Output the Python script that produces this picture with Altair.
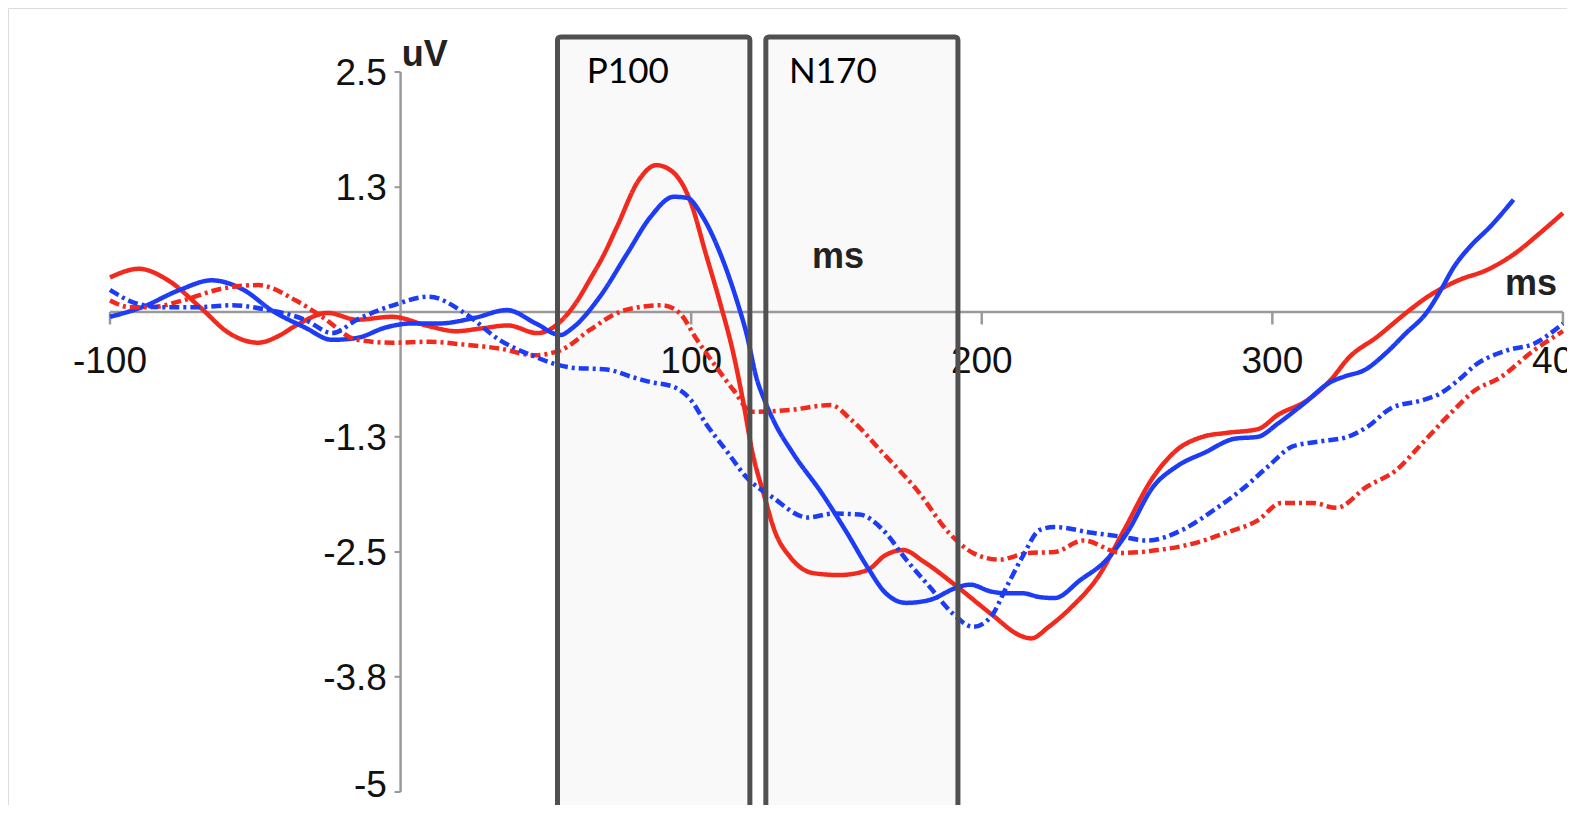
import altair as alt
import pandas as pd

# ---------------- data (ms, uV) ----------------
red_solid_ms = [-100, -90, -80, -69, -59, -49, -42, -36, -25, -15, -3, 10, 19, 28, 37, 47, 55, 60, 65, 70,
                74.5, 82, 88, 94, 100, 105, 110, 114.5, 118, 121, 125, 129, 134, 142, 151, 160.5, 167, 173,
                180, 191.5, 203, 214, 217, 223, 231, 240, 249, 259, 267, 276, 284, 295, 302, 312, 320,
                326.5, 336, 346, 353, 364, 374, 383.5, 392, 400]
red_solid_uv = [0.36, 0.45, 0.33, 0.05, -0.22, -0.32, -0.25, -0.14, -0.01, -0.08, -0.05, -0.15, -0.2, -0.17,
                -0.14, -0.22, -0.1, 0.08, 0.33, 0.6, 0.89, 1.375, 1.53, 1.45, 1.13, 0.61, 0.09, -0.43, -0.95,
                -1.45, -1.9, -2.3, -2.55, -2.72, -2.74, -2.69, -2.53, -2.48, -2.6, -2.86, -3.14, -3.38, -3.4,
                -3.28, -3.07, -2.76, -2.27, -1.72, -1.44, -1.3, -1.26, -1.22, -1.07, -0.92, -0.71, -0.47,
                -0.26, -0.01, 0.15, 0.33, 0.44, 0.61, 0.82, 1.03]

blue_solid_ms = [-100, -89, -76, -65, -54, -44.5, -33, -23.5, -15, -5, 3.5, 13, 25.6, 36.6, 46.6, 55, 59,
                 68.6, 78, 86, 94, 98.5, 104, 110, 115.7, 119, 122.7, 125, 129, 135, 145, 153.6, 160.5, 167,
                 174, 182, 191.5, 196, 203, 208.7, 214, 220, 225, 234, 243, 250, 259, 267, 277, 287, 295,
                 302, 311, 320, 325, 332, 339, 346, 353, 358, 362.5, 368, 375, 383]
blue_solid_uv = [-0.05, 0.05, 0.23, 0.33, 0.23, 0.02, -0.16, -0.29, -0.27, -0.16, -0.12, -0.12, -0.06, 0.02,
                 -0.12, -0.24, -0.17, 0.16, 0.61, 0.99, 1.2, 1.19, 0.99, 0.61, 0.12, -0.22, -0.71, -0.9,
                 -1.17, -1.47, -1.89, -2.3, -2.65, -2.93, -3.03, -3.0, -2.87, -2.84, -2.91, -2.93, -2.93,
                 -2.97, -2.98, -2.79, -2.58, -2.3, -1.82, -1.61, -1.46, -1.32, -1.3, -1.16, -0.95, -0.73,
                 -0.67, -0.6, -0.43, -0.22, -0.01, 0.23, 0.47, 0.68, 0.89, 1.17]

red_dash_ms = [-100, -93, -86, -75, -62, -49, -36, -27, -15, -3, 10, 22, 34, 46, 55, 65, 74.5, 82, 90, 96,
               102, 107.6, 114.5, 121, 134, 148, 155, 166, 177.6, 189, 197, 206, 216, 225, 235, 248, 260.6,
               273, 284, 295, 303, 314, 322, 332.5, 342.5, 351.5, 361.5, 370, 378, 390, 400]
red_dash_uv = [0.12, 0.05, 0.05, 0.12, 0.24, 0.28, 0.12, -0.05, -0.29, -0.32, -0.31, -0.34, -0.38, -0.45,
               -0.4, -0.19, -0.01, 0.05, 0.07, -0.01, -0.29, -0.53, -0.81, -1.04, -1.02, -0.97, -1.12, -1.47,
               -1.85, -2.31, -2.51, -2.58, -2.51, -2.5, -2.38, -2.51, -2.48, -2.41, -2.3, -2.17, -1.99,
               -1.99, -2.04, -1.82, -1.65, -1.37, -1.05, -0.81, -0.69, -0.4, -0.2]

blue_dash_ms = [-100, -91, -82, -70, -58, -47, -33, -23.5, -15, -2.6, 9.7, 22, 34, 46.6, 54, 59, 71, 80, 86,
                94, 100, 105, 112, 119, 128, 140, 149, 158, 166, 174, 182, 190, 197, 203, 208.6, 214, 220,
                225, 238, 248, 257, 269, 280, 289.5, 298.5, 307, 316, 326, 332.5, 341, 351.5, 357.7, 364,
                370, 380.8, 390, 400]
blue_dash_uv = [0.23, 0.09, 0.05, 0.05, 0.07, 0.03, -0.08, -0.22, -0.08, 0.07, 0.16, -0.01, -0.29, -0.47,
                -0.55, -0.58, -0.6, -0.68, -0.73, -0.78, -0.92, -1.16, -1.44, -1.72, -1.93, -2.14, -2.1,
                -2.11, -2.27, -2.58, -2.86, -3.14, -3.28, -3.18, -2.86, -2.55, -2.27, -2.24, -2.3, -2.34,
                -2.38, -2.27, -2.06, -1.85, -1.61, -1.4, -1.35, -1.3, -1.2, -1.0, -0.92, -0.85, -0.71,
                -0.55, -0.4, -0.33, -0.12]

# analysis windows
win_names = ["P100", "N170"]
win_start = [54, 125.7]
win_end = [120.2, 191.8]

# axis ticks / labels
x_ticks = [-100, 100, 200, 300, 400]
x_tick_labels = ["-100", "100", "200", "300", "400"]
y_ticks = [2.5, 1.3, -1.3, -2.5, -3.8, -5]
y_tick_labels = ["2.5", "1.3", "-1.3", "-2.5", "-3.8", "-5"]

# ---------------- tables ----------------
rows = []
for name, ms_list, uv_list, col, sty in [
    ("red solid", red_solid_ms, red_solid_uv, "red", "solid"),
    ("blue solid", blue_solid_ms, blue_solid_uv, "blue", "solid"),
    ("red dashdot", red_dash_ms, red_dash_uv, "red", "dashdot"),
    ("blue dashdot", blue_dash_ms, blue_dash_uv, "blue", "dashdot"),
]:
    for m, v in zip(ms_list, uv_list):
        rows.append({"series": name, "ms": m, "uv": v, "col": col, "sty": sty})
lines_df = pd.DataFrame(rows)

win_df = pd.DataFrame({"name": win_names, "x": win_start, "x2": win_end,
                       "y": [-5.6] * 2, "y2": [2.865] * 2})
win_lbl_df = pd.DataFrame({"name": win_names, "x": [64.1, 133.7], "y": [2.385, 2.385]})
xt_df = pd.DataFrame({"t": x_ticks, "lbl": x_tick_labels})
yt_df = pd.DataFrame({"t": y_ticks, "lbl": y_tick_labels})

X_DOM = [-135.1, 401.4]
Y_DOM = [-5.1354, 3.1667]
xs = alt.Scale(domain=X_DOM, nice=False, zero=False)
ys = alt.Scale(domain=Y_DOM, nice=False, zero=False)

SANS = "Liberation Sans, Arial, sans-serif"
AX = "#9a9a9a"

base = alt.Chart(lines_df)

win_fill = alt.Chart(win_df).mark_rect(fill="#f9f9f9", strokeWidth=0).encode(
    x=alt.X("x:Q", scale=xs, axis=None), x2="x2", y=alt.Y("y:Q", scale=ys, axis=None), y2="y2")

x_axis_line = alt.Chart(pd.DataFrame({"a": [x_ticks[0]], "b": [x_ticks[-1]], "y": [0]})).mark_rule(
    color=AX, strokeWidth=2.5).encode(x=alt.X("a:Q", scale=xs), x2="b", y=alt.Y("y:Q", scale=ys))
y_axis_line = alt.Chart(pd.DataFrame({"x": [0], "a": [y_ticks[-1]], "b": [y_ticks[0]]})).mark_rule(
    color=AX, strokeWidth=2.5).encode(x=alt.X("x:Q", scale=xs), y=alt.Y("a:Q", scale=ys), y2="b")

x_tick_marks = alt.Chart(xt_df).transform_calculate(y0="0", y1="-0.13").mark_rule(
    color=AX, strokeWidth=2.5).encode(x=alt.X("t:Q", scale=xs), y=alt.Y("y0:Q", scale=ys), y2="y1:Q")
y_tick_marks = alt.Chart(yt_df).transform_calculate(x0="0", x1="-2.1").mark_rule(
    color=AX, strokeWidth=2).encode(y=alt.Y("t:Q", scale=ys), x=alt.X("x0:Q", scale=xs), x2="x1:Q")

x_tick_text = alt.Chart(xt_df).transform_calculate(y0="0").mark_text(
    font=SANS, fontSize=37, color="#111", align="center", baseline="alphabetic", dy=61).encode(
    x=alt.X("t:Q", scale=xs), y=alt.Y("y0:Q", scale=ys), text="lbl:N")
y_tick_text = alt.Chart(yt_df).transform_calculate(
    x0="-4.7", ly="datum.t < -4.9 ? -4.92 : datum.t").mark_text(
    font=SANS, fontSize=37, color="#111", align="right", baseline="alphabetic", dy=13).encode(
    y=alt.Y("ly:Q", scale=ys), x=alt.X("x0:Q", scale=xs), text="lbl:N")

waves = base.mark_line(strokeWidth=4.5, interpolate="monotone").encode(
    x=alt.X("ms:Q", scale=xs),
    y=alt.Y("uv:Q", scale=ys),
    detail="series:N",
    color=alt.Color("col:N", scale=alt.Scale(domain=["red", "blue"], range=["#f2291d", "#1d3cf5"]), legend=None),
    strokeDash=alt.StrokeDash("sty:N", scale=alt.Scale(domain=["solid", "dashdot"], range=[[1, 0], [10, 4, 3, 4]]),
                              legend=None),
    order="ms:Q",
)

win_border = alt.Chart(win_df).mark_rect(fillOpacity=0, stroke="#505050", strokeWidth=5, cornerRadius=3).encode(
    x=alt.X("x:Q", scale=xs), x2="x2", y=alt.Y("y:Q", scale=ys), y2="y2")

win_text = alt.Chart(win_lbl_df).mark_text(font="Lato", fontSize=35, color="#000", align="left",
                                           baseline="alphabetic").encode(
    x=alt.X("x:Q", scale=xs), y=alt.Y("y:Q", scale=ys), text="name:N")

unit_df = pd.DataFrame({"x": [0.4, 141.6, 380.1], "y": [2.5625, 0.458, 0.177], "t": ["uV", "ms", "ms"]})
unit_text = alt.Chart(unit_df).mark_text(font=SANS, fontSize=36, fontWeight="bold", color="#222",
                                         align="left", baseline="alphabetic").encode(
    x=alt.X("x:Q", scale=xs), y=alt.Y("y:Q", scale=ys), text="t:N")

chart = alt.layer(
    win_fill, x_axis_line, y_axis_line, x_tick_marks, y_tick_marks, x_tick_text, y_tick_text,
    waves, win_border, win_text, unit_text
).properties(
    width=1559, height=797, padding=0, autosize=alt.AutoSizeParams(type="none")
).configure_view(strokeWidth=0, stroke="transparent").configure(background="white")

chart.save("out.html", embed_options={"renderer": "svg", "actions": False})
